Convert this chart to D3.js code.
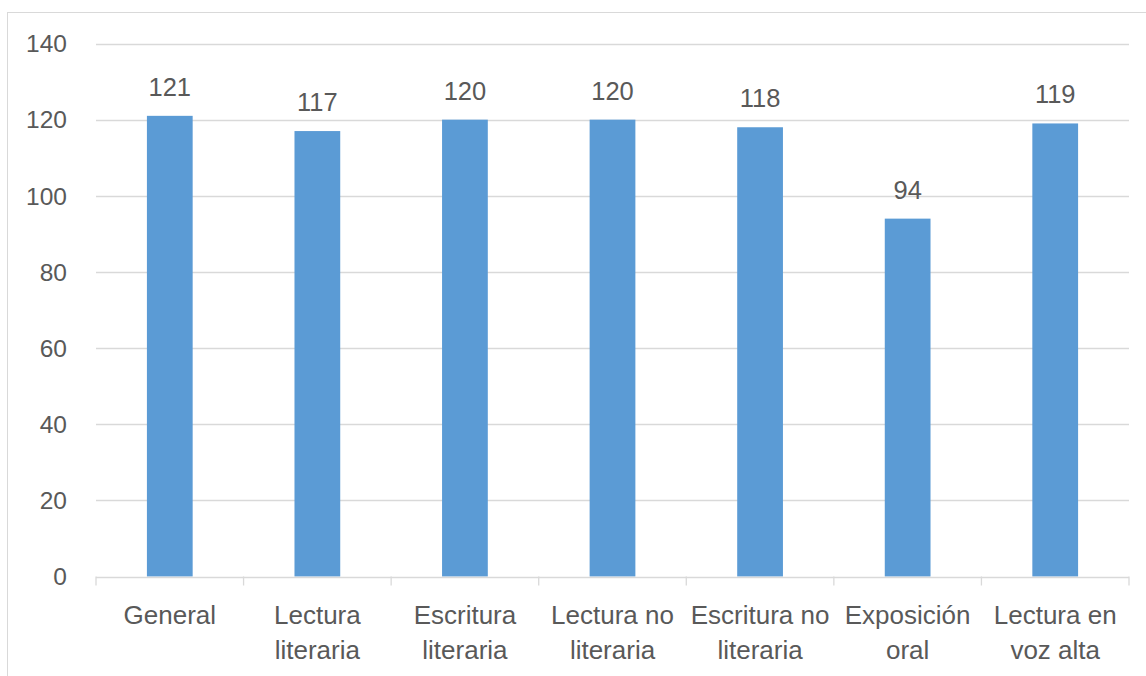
<!DOCTYPE html>
<html><head><meta charset="utf-8">
<script src="https://cdn.jsdelivr.net/npm/d3@7"></script>
<style>body{margin:0;background:#fff}svg{display:block}text{font-family:"Liberation Sans",Arial,sans-serif;fill:#595959}</style>
</head><body><svg id="c" width="1146" height="676"></svg>
<script>
const categories = [["General"],["Lectura","literaria"],["Escritura","literaria"],["Lectura no","literaria"],["Escritura no","literaria"],["Exposición","oral"],["Lectura en","voz alta"]];
const values = [121,117,120,120,118,94,119];
const yTicks = [0,20,40,60,80,100,120,140];

const svg = d3.select("#c");
const m = {l:96, r:1129, t:43.5, b:576.5};
// chart border
svg.append("rect").attr("x",7.5).attr("y",12.5).attr("width",1160).attr("height",700)
  .attr("fill","none").attr("stroke","#d9d9d9");
const x = d3.scaleBand().domain(d3.range(categories.length)).range([m.l,m.r]).paddingInner(0.69).paddingOuter(0.345);
const y = d3.scaleLinear().domain([0,140]).range([m.b,m.t]);

const grid = svg.append("g");
grid.selectAll("line").data(yTicks.filter(d=>d>0)).join("line")
  .attr("x1",m.l).attr("x2",m.r).attr("y1",d=>Math.round(y(d))+0.5).attr("y2",d=>Math.round(y(d))+0.5)
  .attr("stroke","#d9d9d9").attr("stroke-width",1.3);

svg.append("g").selectAll("text").data(yTicks).join("text")
  .attr("x",67).attr("y",d=>y(d)).attr("dy","0.36em").attr("text-anchor","end")
  .attr("font-size",24.5).text(d=>d);

svg.append("g").selectAll("rect").data(values).join("rect")
  .attr("x",(d,i)=>x(i)).attr("width",x.bandwidth())
  .attr("y",d=>y(d)).attr("height",d=>y(0)-y(d)).attr("fill","#5b9bd5");

svg.append("g").selectAll("text").data(values).join("text")
  .attr("x",(d,i)=>x(i)+x.bandwidth()/2).attr("y",d=>y(d)-20)
  .attr("text-anchor","middle").attr("font-size",25.5).text(d=>d);

// x axis
const ax = svg.append("g");
ax.append("line").attr("x1",m.l).attr("x2",m.r).attr("y1",Math.round(y(0))+0.5).attr("y2",Math.round(y(0))+0.5)
  .attr("stroke","#d9d9d9").attr("stroke-width",1.3);
const step = x.step();
ax.selectAll("line.t").data(d3.range(categories.length+1)).join("line").attr("class","t")
  .attr("x1",i=>m.l+i*step).attr("x2",i=>m.l+i*step)
  .attr("y1",y(0)).attr("y2",y(0)+9).attr("stroke","#d9d9d9").attr("stroke-width",1.3);
const lab = ax.selectAll("text").data(categories).join("text")
  .attr("text-anchor","middle").attr("font-size",26);
lab.each(function(d,i){
  d3.select(this).selectAll("tspan").data(d).join("tspan")
    .attr("x",x(i)+x.bandwidth()/2).attr("y",(t,j)=>624+j*35).text(t=>t);
});
</script></body></html>
